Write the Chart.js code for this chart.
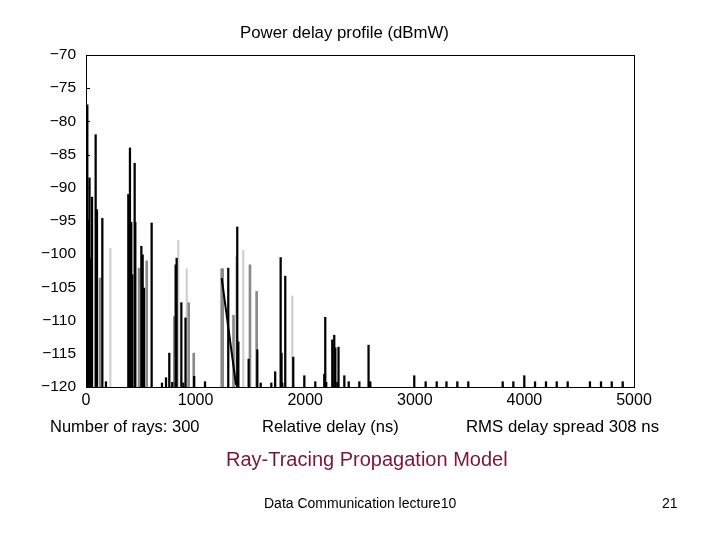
<!DOCTYPE html>
<html>
<head>
<meta charset="utf-8">
<script src="https://cdn.jsdelivr.net/npm/chart.js@4"></script>
<style>
  body { margin: 0; background: #fff; font-family: "Liberation Sans", Arial, sans-serif; }
  #wrap { position: relative; width: 720px; height: 540px; }
  canvas { position: absolute; left: 0; top: 0; }
  .txt { position: absolute; white-space: nowrap; color: #000; }
</style>
</head>
<body>
<div id="wrap">
  <canvas id="pdp" width="720" height="540"></canvas>
  <div class="txt" style="left:240px; top:23px; font-size:16.8px;">Power delay profile (dBmW)</div>
  <div class="txt" style="left:50px; top:417px; font-size:16.5px;">Number of rays: 300</div>
  <div class="txt" style="left:262px; top:417px; font-size:16.5px;">Relative delay (ns)</div>
  <div class="txt" style="left:466px; top:417px; font-size:16.8px;">RMS delay spread 308 ns</div>
  <div class="txt" style="left:226px; top:448px; font-size:20px; color:#7a1636;">Ray-Tracing Propagation Model</div>
  <div class="txt" style="left:264px; top:495px; font-size:14px;">Data Communication lecture10</div>
  <div class="txt" style="left:662px; top:495px; font-size:14px;">21</div>
</div>
<script>
// Ray arrivals: delay (ns) and received power (dBmW), split by shade
const blackDelay = [12, 32, 20, 55, 46, 88, 100, 149, 182, 386, 401, 413, 422, 444, 450, 505, 517, 529, 520, 599,
    693, 730, 760, 787, 818, 827, 870, 888, 908, 987, 1086, 1298, 1380, 1390, 1484, 1563, 1594, 1691, 1726, 1776,
    1784, 1791, 1818, 1891, 1992, 2092, 2174, 2183, 2192, 2247, 2265, 2275, 2293, 2304, 2357, 2397, 2494, 2578, 2594,
    2995, 3099, 3200, 3289, 3388, 3488, 3802, 3899, 3999, 4097, 4197, 4295, 4395, 4598, 4699, 4797, 4897];
const blackPower = [-77.5, -88.5, -94.8, -91.4, -100.6, -82.0, -93.3, -94.6, -119.2, -91.0, -84.0, -95.2, -103.1, -86.3, -95.2, -98.8, -100.1, -105.1, -119.5, -95.3,
    -119.4, -118.6, -114.9, -119.3, -101.6, -100.6, -107.3, -119.4, -109.6, -118.4, -119.2, -102.1, -95.9, -113.2, -115.8, -114.4, -119.4, -119.4, -117.7, -100.5,
    -114.9, -119.4, -103.3, -115.5, -118.3, -119.2, -118.1, -109.5, -119.3, -112.9, -112.2, -114.1, -119.3, -114.0, -118.3, -119.2, -119.2, -113.7, -119.2,
    -118.3, -119.2, -119.2, -119.2, -119.2, -119.2, -119.2, -119.2, -118.3, -119.2, -119.2, -119.2, -119.2, -119.2, -119.2, -119.2, -119.2];

const greyDelay = [128, 484, 554, 806, 937, 983, 1238, 1247, 1346, 1496, 1557];
const greyPower = [-103.6, -102.1, -101.0, -109.4, -107.3, -114.9, -102.2, -102.2, -109.2, -101.6, -105.6];

const lightDelay = [222, 842, 919, 1369, 1435, 1882];
const lightPower = [-99.1, -97.9, -102.2, -100.4, -99.4, -106.3];

// stray trace line drawn in the original plot
const traceDelay = [1238, 1369];
const tracePower = [-103.6, -119.7];

const xTicks = [0, 1000, 2000, 3000, 4000, 5000];
const yTicks = [-120, -115, -110, -105, -100, -95, -90, -85, -80, -75, -70];

const floor = -120;
function stems(delays, powers) {
    return delays.map((d, i) => ({ x: d, y: [floor, powers[i]] }));
}

// frame + inward y ticks
const framePlugin = {
    id: 'frame',
    afterDatasetsDraw(chart) {
        const { ctx, chartArea: a, scales } = chart;
        ctx.save();
        ctx.strokeStyle = '#000';
        ctx.lineWidth = 1;
        ctx.strokeRect(a.left + 0.5, a.top + 0.5, a.right - a.left, a.bottom - a.top);
        ctx.beginPath();
        yTicks.forEach(v => {
            const y = Math.round(scales.y.getPixelForValue(v)) + 0.5;
            ctx.moveTo(a.left, y);
            ctx.lineTo(a.left + 4, y);
        });
        ctx.stroke();
        ctx.restore();
    }
};

const ctx = document.getElementById('pdp').getContext('2d');
const pdpChart = new Chart(ctx, {
    type: 'bar',
    data: {
        datasets: [
            {
                type: 'line',
                data: traceDelay.map((d, i) => ({ x: d, y: tracePower[i] })),
                borderColor: '#000',
                borderWidth: 2,
                pointRadius: 0,
                order: 0
            },
            {
                label: 'light',
                data: stems(lightDelay, lightPower),
                backgroundColor: '#cfcfcf',
                barThickness: 1.5,
                grouped: false,
                order: 3
            },
            {
                label: 'grey',
                data: stems(greyDelay, greyPower),
                backgroundColor: '#8a8a8a',
                barThickness: 2,
                grouped: false,
                order: 2
            },
            {
                label: 'black',
                data: stems(blackDelay, blackPower),
                backgroundColor: '#000',
                barThickness: 1.6,
                grouped: false,
                order: 1
            }
        ]
    },
    options: {
        responsive: false,
        animation: false,
        layout: { padding: { left: 26, right: 86, top: 55, bottom: 123 } },
        plugins: { legend: { display: false }, tooltip: { enabled: false } },
        scales: {
            x: {
                type: 'linear',
                min: 0,
                max: 5000,
                offset: false,
                grid: { display: false },
                border: { display: false },
                afterBuildTicks: s => { s.ticks = xTicks.map(v => ({ value: v })); },
                afterFit: s => { s.height = 30; },
                ticks: {
                    color: '#000',
                    padding: -4,
                    maxRotation: 0,
                    font: { family: 'Liberation Sans', size: 16 },
                    callback: v => String(v)
                }
            },
            y: {
                min: -120,
                max: -70,
                grid: { display: false },
                border: { display: false },
                afterBuildTicks: s => { s.ticks = yTicks.map(v => ({ value: v })); },
                afterFit: s => { s.width = 60; },
                ticks: {
                    color: '#000',
                    padding: 2,
                    font: { family: 'Liberation Sans', size: 15.5 },
                    callback: v => String(v).replace('-', '\u2212')
                }
            }
        }
    },
    plugins: [framePlugin]
});
</script>
</body>
</html>
